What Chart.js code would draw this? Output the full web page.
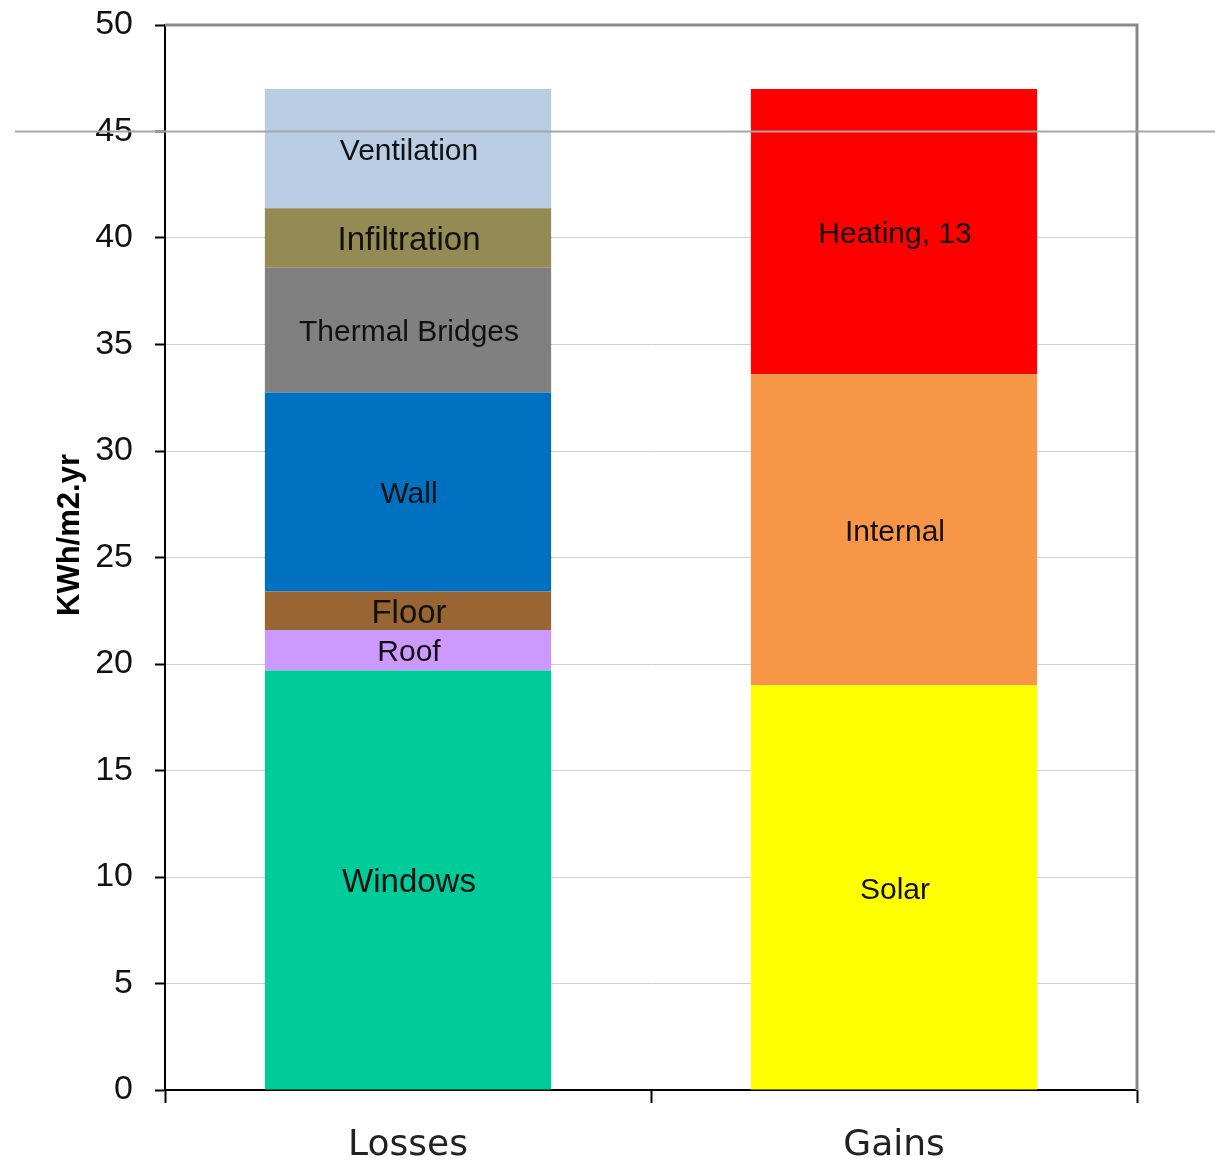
<!DOCTYPE html>
<html>
<head>
<meta charset="utf-8">
<title>Energy balance</title>
<script src="https://cdn.jsdelivr.net/npm/chart.js@4.4.1/dist/chart.umd.min.js"></script>
<style>
  html, body { margin: 0; padding: 0; background: #fff; }
  #wrap { width: 1215px; height: 1171px; position: relative; }
</style>
</head>
<body>
<div id="wrap"><canvas id="balanceChart"></canvas></div>
<script>
// chart data
const categories = ['Losses', 'Gains'];

const lossNames = ['Windows', 'Roof', 'Floor', 'Wall', 'Thermal Bridges', 'Infiltration', 'Ventilation'];
const lossValues = [19.7, 1.9, 1.8, 9.35, 5.85, 2.8, 5.6];

const gainNames = ['Solar', 'Internal', 'Heating, 13'];
const gainValues = [19.0, 14.6, 13.4];

const yTicks = [0, 5, 10, 15, 20, 25, 30, 35, 40, 45, 50];
const yTitle = 'KWh/m2.yr';
const markerValue = 45; // the grey line across the whole picture

// styles
const lossColors = ['#00CC99', '#CC99FF', '#996633', '#0070C0', '#808080', '#948A54', '#B9CDE5'];
const gainColors = ['#FFFF00', '#F79646', '#FF0000'];
const bigLabels = ['Windows', 'Floor', 'Infiltration'];

const datasets = [];
lossNames.forEach((name, i) => {
  datasets.push({
    label: name,
    data: [lossValues[i], null],
    backgroundColor: lossColors[i],
    stack: 'all'
  });
});
gainNames.forEach((name, i) => {
  datasets.push({
    label: name,
    data: [null, gainValues[i]],
    backgroundColor: gainColors[i],
    stack: 'all'
  });
});

const segmentLabels = {
  id: 'segmentLabels',
  afterDatasetsDraw(chart) {
    const ctx = chart.ctx;
    ctx.save();
    ctx.textAlign = 'center';
    ctx.textBaseline = 'middle';
    ctx.fillStyle = '#111';
    chart.data.datasets.forEach((ds, di) => {
      const meta = chart.getDatasetMeta(di);
      ds.data.forEach((v, idx) => {
        if (v === null) return;
        const bar = meta.data[idx];
        const size = bigLabels.includes(ds.label) ? 33 : 30;
        ctx.font = size + 'px "Liberation Sans", Arial, sans-serif';
        ctx.fillText(ds.label, bar.x + 1, (bar.y + bar.base) / 2 + 3);
      });
    });
    ctx.restore();
  }
};

const frameAndMarker = {
  id: 'frameAndMarker',
  afterDraw(chart) {
    const ctx = chart.ctx;
    const area = chart.chartArea;
    const y = chart.scales.y;
    ctx.save();
    // grey frame on top and right
    ctx.strokeStyle = '#8a8a8a';
    ctx.lineWidth = 3;
    ctx.beginPath();
    ctx.moveTo(area.left, area.top);
    ctx.lineTo(area.right, area.top);
    ctx.lineTo(area.right, area.bottom);
    ctx.stroke();
    // line at 45 drawn over everything
    const py = Math.round(y.getPixelForValue(markerValue)) + 0.5;
    ctx.strokeStyle = '#a6a6a6';
    ctx.lineWidth = 2;
    ctx.beginPath();
    ctx.moveTo(15, py);
    ctx.lineTo(chart.width, py);
    ctx.stroke();
    // axis title
    ctx.translate(70, 535);
    ctx.rotate(-Math.PI / 2);
    ctx.fillStyle = '#000';
    ctx.font = 'bold 31px "Liberation Sans", Arial, sans-serif';
    ctx.textAlign = 'center';
    ctx.textBaseline = 'middle';
    ctx.fillText(yTitle, 0, 0);
    ctx.restore();
  }
};

new Chart(document.getElementById('balanceChart').getContext('2d'), {
  type: 'bar',
  data: { labels: categories, datasets },
  options: {
    responsive: true,
    maintainAspectRatio: false,
    devicePixelRatio: 1,
    animation: false,
    layout: { padding: { top: 25, right: 78, bottom: 0, left: 0 } },
    datasets: {
      bar: { categoryPercentage: 1, barPercentage: 0.589, borderWidth: 0 }
    },
    plugins: {
      legend: { display: false },
      tooltip: { enabled: false }
    },
    scales: {
      x: {
        stacked: true,
        offset: true,
        afterFit(scale) { scale.height = 81; },
        grid: {
          offset: true,
          drawOnChartArea: false,
          tickColor: '#000',
          tickLength: 13,
          tickWidth: 2
        },
        border: { display: true, color: '#000', width: 2 },
        ticks: {
          color: '#222',
          padding: 21,
          font: { family: '"DejaVu Sans", sans-serif', size: 36 }
        }
      },
      y: {
        stacked: true,
        min: 0,
        max: 50,
        afterFit(scale) {
          scale.width = 165;
          scale.paddingTop = 0;
          scale.paddingBottom = 0;
        },
        afterBuildTicks(scale) { scale.ticks = yTicks.map(v => ({ value: v })); },
        grid: {
          color: '#d0d0d0',
          lineWidth: 1,
          tickColor: '#000',
          tickLength: 10,
          tickWidth: 2
        },
        border: { display: true, color: '#000', width: 2 },
        ticks: {
          color: '#111',
          padding: 22,
          font: { family: '"Liberation Sans", Arial, sans-serif', size: 34 }
        }
      }
    }
  },
  plugins: [segmentLabels, frameAndMarker]
});
</script>
</body>
</html>
